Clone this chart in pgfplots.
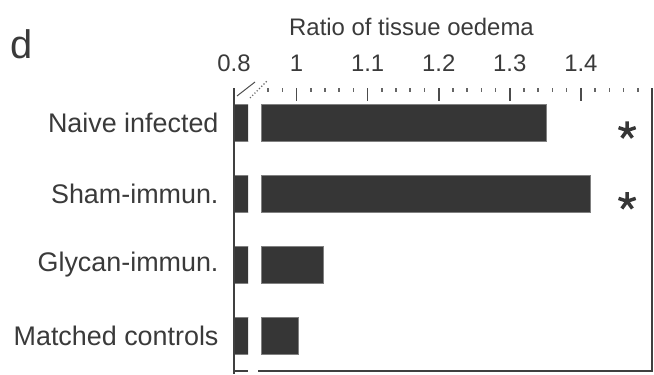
\documentclass[border=0pt]{standalone}
\usepackage{pgfplots}
\pgfplotsset{compat=1.18}
\usepackage{pgfplotstable}
\usepackage{fontspec}
\setmainfont{Liberation Sans}
\definecolor{barcol}{HTML}{363636}
\definecolor{txt}{HTML}{3A3A3A}

\pgfplotstableread{
pos value
0 1.003
1 1.038
2 1.413
3 1.352
}\datatable

\begin{document}
\begin{tikzpicture}
\useasboundingbox (0bp,0bp) rectangle (654bp,-375bp);
% broken-off stub of the axis
\begin{axis}[
  at={(234bp,-371bp)}, anchor=south west,
  scale only axis, width=14bp, height=283bp,
  xmin=0.8, xmax=0.82, ymin=-0.5, ymax=3.5,
  axis line style={draw=none},
  clip mode=individual,
  xtick={0.8}, xticklabels={0.8},
  xtick pos=right, xticklabel pos=right,
  major x tick style={draw=none},
  ytick={0,1,2,3},
  yticklabels={Matched controls,Glycan-immun.,Sham-immun.,Naive infected},
  ytick pos=left, major y tick style={draw=none},
  extra y ticks={-0.5,0.5}, extra y tick labels={},
  extra y tick style={tick align=outside, major tick length=14bp,
    major tick style={draw=black!75, line width=1.2bp}},
  yticklabel style={font=\fontsize{27}{30}\selectfont, text=txt, xshift=-12bp},
  xticklabel style={font=\fontsize{24}{28}\selectfont, text=txt, yshift=13bp},
]
\addplot[xbar, bar width=37bp, bar shift=0pt, fill=barcol, draw=black!50, line width=0.8bp]
  table[x=value, y=pos]{\datatable};
\draw[black!75, line width=1.2bp] (rel axis cs:0,1) -- ([yshift=-3bp]rel axis cs:0,0);
\draw[black!75, line width=1.2bp] (rel axis cs:0,0) -- (rel axis cs:1,0);
\end{axis}
% main axis
\begin{axis}[
  at={(261bp,-371bp)}, anchor=south west,
  scale only axis, width=391bp, height=283bp,
  xmin=0.95, xmax=1.5, ymin=-0.5, ymax=3.5,
  axis line style={draw=none},
  clip mode=individual,
  xtick={1,1.1,1.2,1.3,1.4}, xticklabels={1,1.1,1.2,1.3,1.4},
  minor xtick={0.96,0.98,1.02,1.04,1.06,1.08,1.12,1.14,1.16,1.18,1.22,1.24,1.26,1.28,1.32,1.34,1.36,1.38,1.42,1.44,1.46,1.48},
  xtick pos=right, xticklabel pos=right, tick align=inside,
  major tick length=13bp, minor tick length=4bp,
  major tick style={draw=black!70, line width=1.6bp},
  minor tick style={draw=black!60, line width=1.6bp},
  ytick=\empty,
  xticklabel style={font=\fontsize{24}{28}\selectfont, text=txt, yshift=13bp},
]
\addplot[xbar, bar width=37bp, bar shift=0pt, fill=barcol, draw=black!50, line width=0.8bp]
  table[x=value, y=pos]{\datatable};
\addplot[only marks, mark=star, mark size=9bp, mark options={line width=3.5bp, draw=barcol}]
  coordinates {(1.465,2.9) (1.465,1.9)};
\draw[black!75, line width=1.2bp] ([xshift=-3bp]rel axis cs:0,0) -- (rel axis cs:1,0) -- (rel axis cs:1,1);
\end{axis}
% break marks
\draw[black!70, line width=1bp] (237bp,-96bp) -- (255bp,-82bp);
\draw[black!60, dotted, line width=1.2bp] (250bp,-98bp) -- (268bp,-80bp);
\node[anchor=base west, font=\fontsize{40}{40}\selectfont, text=txt, inner sep=0] at (10bp,-58bp) {d};
\node[anchor=base, font=\fontsize{24}{28}\selectfont, text=txt, inner sep=0] at (411.5bp,-35bp) {Ratio of tissue oedema};
\end{tikzpicture}
\end{document}
